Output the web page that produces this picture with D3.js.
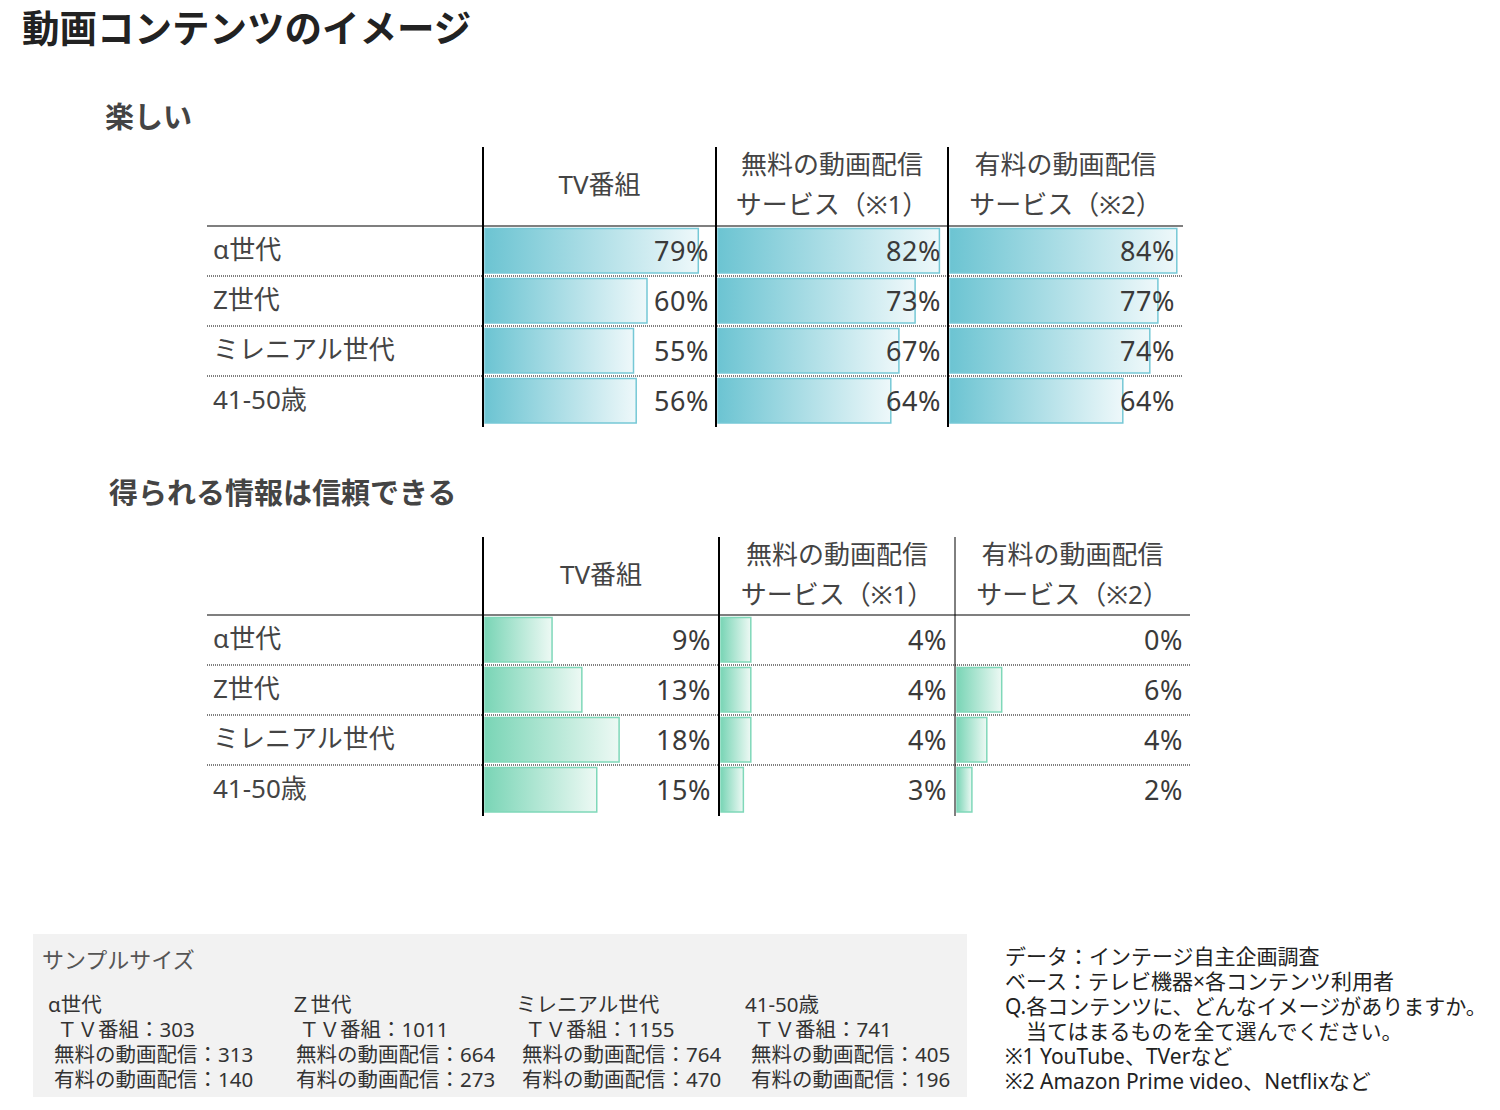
<!DOCTYPE html>
<html>
<head>
<meta charset="utf-8">
<script src="https://cdn.jsdelivr.net/npm/d3@7"></script>
<style>
  body { margin: 0; background: #fff; }
  svg { display: block; font-family: "Noto Sans", "Noto Sans CJK JP", sans-serif; }
</style>
</head>
<body>
<div id="chart"></div>
<script>
const groups = ["α世代", "Z世代", "ミレニアル世代", "41-50歳"];
const sampleGroups = ["α世代", "Ｚ世代", "ミレニアル世代", "41-50歳"];
const headers = [["TV番組"], ["無料の動画配信", "サービス（※1）"], ["有料の動画配信", "サービス（※2）"]];

// 楽しい
const funTV = [79, 60, 55, 56];
const funFree = [82, 73, 67, 64];
const funPaid = [84, 77, 74, 64];

// 得られる情報は信頼できる
const trustTV = [9, 13, 18, 15];
const trustFree = [4, 4, 4, 3];
const trustPaid = [0, 6, 4, 2];

// sample sizes
const sampleTV = [303, 1011, 1155, 741];
const sampleFree = [313, 664, 764, 405];
const samplePaid = [140, 273, 470, 196];

const notes = [
    "データ：インテージ自主企画調査",
    "ベース：テレビ機器×各コンテンツ利用者",
    "Q.各コンテンツに、どんなイメージがありますか。",
    "　当てはまるものを全て選んでください。",
    "※1 YouTube、TVerなど",
    "※2 Amazon Prime video、Netflixなど"
];

const svg = d3.select("#chart").append("svg")
    .attr("width", 1500)
    .attr("height", 1110);

const defs = svg.append("defs");
function addGradient(id, from, to) {
    const lg = defs.append("linearGradient").attr("id", id)
        .attr("x1", "0%").attr("x2", "100%").attr("y1", "0%").attr("y2", "0%");
    lg.append("stop").attr("offset", "0%").attr("stop-color", from);
    lg.append("stop").attr("offset", "100%").attr("stop-color", to);
}
addGradient("gBlue", "#6cc4d2", "#eef8fa");
addGradient("gGreen", "#7ad5b6", "#edf9f4");

// title
svg.append("text")
    .attr("x", 22).attr("y", 42)
    .attr("font-size", 37.5).attr("font-weight", "bold").attr("fill", "#222")
    .text("動画コンテンツのイメージ");

function drawTable(opt) {
    const g = svg.append("g");
    g.append("text")
        .attr("x", opt.titleX).attr("y", opt.titleY)
        .attr("font-size", 29).attr("font-weight", "bold").attr("fill", "#444")
        .text(opt.title);

    const colEdges = opt.cols; // left of col1 ... right end
    const rowTop = opt.headerBottom;
    const rowH = 50;

    const y = d3.scaleBand()
        .domain(groups)
        .range([rowTop, rowTop + rowH * groups.length]);

    const w = d3.scaleLinear().domain([0, 100]).range([0, opt.barMax]);

    // header texts
    headers.forEach((lines, i) => {
        const cx = (colEdges[i] + colEdges[i + 1]) / 2;
        const mid = (opt.headerTop + opt.headerBottom) / 2 - 2.5;
        const n = lines.length;
        lines.forEach((t, j) => {
            g.append("text")
                .attr("x", cx)
                .attr("y", mid + (j - (n - 1) / 2) * 40)
                .attr("dominant-baseline", "central")
                .attr("text-anchor", "middle")
                .attr("font-size", 26).attr("fill", "#444")
                .text(t);
        });
    });

    // header line
    g.append("line")
        .attr("x1", opt.left).attr("x2", colEdges[3])
        .attr("y1", rowTop).attr("y2", rowTop)
        .attr("stroke", "#000").attr("stroke-width", 1.2);

    // dotted row lines
    groups.slice(1).forEach(gr => {
        g.append("line")
            .attr("x1", opt.left).attr("x2", colEdges[3])
            .attr("y1", y(gr)).attr("y2", y(gr))
            .attr("stroke", "#000").attr("stroke-width", 1.2)
            .attr("stroke-dasharray", "1,1");
    });

    // row labels
    g.selectAll(".rowlab").data(groups).enter().append("text")
        .attr("x", opt.left + 6)
        .attr("y", d => y(d) + rowH / 2 - 2)
        .attr("dominant-baseline", "central")
        .attr("font-size", 26).attr("fill", "#444")
        .text(d => d);

    // bars + labels
    opt.series.forEach((vals, ci) => {
        const x0 = colEdges[ci] + 2;
        const cg = g.append("g");
        vals.forEach((v, i) => {
            if (v <= 0) return;
            cg.append("rect")
                .attr("x", x0)
                .attr("y", y(groups[i]) + 2.5)
                .attr("width", w(v))
                .attr("height", rowH - 5.5)
                .attr("fill", `url(#${opt.grad})`)
                .attr("stroke", opt.border).attr("stroke-width", 1.5);
        });
        cg.selectAll("text").data(vals).enter().append("text")
            .attr("x", colEdges[ci + 1] - opt.labelPad[ci])
            .attr("y", (d, i) => y(groups[i]) + rowH / 2 - 1)
            .attr("dominant-baseline", "central")
            .attr("text-anchor", "end")
            .attr("font-size", 27).attr("letter-spacing", 0.6).attr("fill", "#3a3a3a")
            .text(d => d + "%");
    });

    // vertical dividers
    colEdges.slice(0, 3).forEach((xv, i) => {
        g.append("line")
            .attr("x1", xv).attr("x2", xv)
            .attr("y1", opt.headerTop).attr("y2", rowTop + rowH * groups.length + 1)
            .attr("stroke", "#000").attr("stroke-width", opt.vWidth[i]);
    });
}

drawTable({
    title: "楽しい", titleX: 105, titleY: 128,
    left: 207, cols: [483, 716, 948, 1183],
    headerTop: 147, headerBottom: 226,
    series: [funTV, funFree, funPaid],
    barMax: 270, grad: "gBlue", border: "#76c8d6",
    labelPad: [7, 7, 8], vWidth: [2, 2, 2]
});

drawTable({
    title: "得られる情報は信頼できる", titleX: 109, titleY: 504,
    left: 207, cols: [483, 719, 955, 1190],
    headerTop: 537, headerBottom: 615,
    series: [trustTV, trustFree, trustPaid],
    barMax: 745, grad: "gGreen", border: "#7fd8b9",
    labelPad: [8, 8, 7], vWidth: [2, 2, 1]
});

// sample size box
const sb = svg.append("g");
sb.append("rect")
    .attr("x", 33).attr("y", 934).attr("width", 934).attr("height", 163)
    .attr("fill", "#f2f2f2");
sb.append("text")
    .attr("x", 42).attr("y", 968)
    .attr("font-size", 22).attr("fill", "#555")
    .text("サンプルサイズ");

const sampleX = [48, 290, 516, 745];
sampleGroups.forEach((gr, i) => {
    const x = sampleX[i];
    const lines = [
        [gr, x],
        ["ＴＶ番組：" + sampleTV[i], x + 9],
        ["無料の動画配信：" + sampleFree[i], x + 6],
        ["有料の動画配信：" + samplePaid[i], x + 6]
    ];
    lines.forEach(([t, lx], j) => {
        sb.append("text")
            .attr("x", lx).attr("y", 1012 + j * 25)
            .attr("font-size", 20.5).attr("fill", "#333")
            .text(t);
    });
});

// notes
svg.append("g").selectAll("text").data(notes).enter().append("text")
    .attr("x", 1005)
    .attr("y", (d, i) => 964 + i * 25)
    .attr("font-size", 21).attr("fill", "#222")
    .text(d => d);
</script>
</body>
</html>
